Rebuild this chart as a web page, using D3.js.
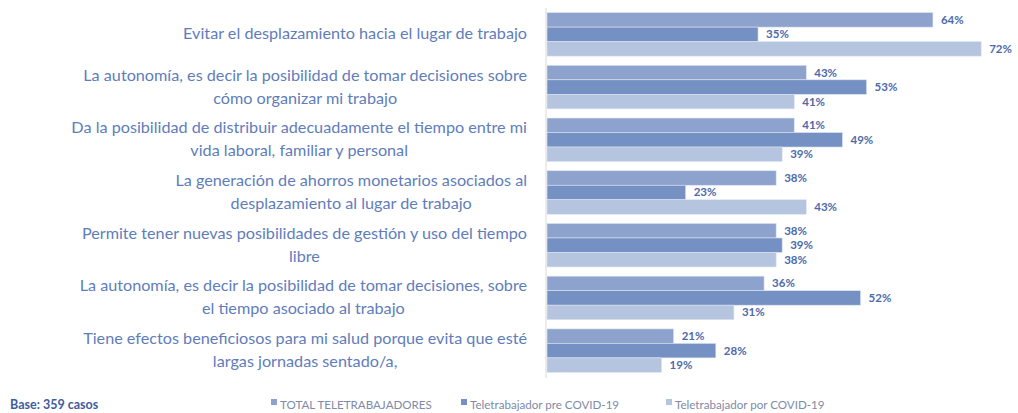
<!DOCTYPE html>
<meta charset="utf-8">
<script src="https://d3js.org/d3.v7.min.js"></script>
<style>
  body { margin: 0; background: #fff; }
  text { font-family: Lato, "Open Sans", sans-serif; }
</style>
<div id="chart"></div>
<script>

// categories (lines of each label)
var categories = [
  ["Evitar el desplazamiento hacia el lugar de trabajo"],
  ["La autonomía, es decir la posibilidad de tomar decisiones sobre", "cómo organizar mi trabajo"],
  ["Da la posibilidad de distribuir adecuadamente el tiempo entre mi", "vida laboral, familiar y personal"],
  ["La generación de ahorros monetarios asociados al", "desplazamiento al lugar de trabajo"],
  ["Permite tener nuevas posibilidades de gestión y uso del tiempo", "libre"],
  ["La autonomía, es decir la posibilidad de tomar decisiones, sobre", "el tiempo asociado al trabajo"],
  ["Tiene efectos beneficiosos para mi salud porque evita que esté", "largas jornadas sentado/a,"]
];
var seriesNames = ["TOTAL TELETRABAJADORES", "Teletrabajador pre COVID-19", "Teletrabajador por COVID-19"];
var totalVals = [64, 43, 41, 38, 38, 36, 21];
var preVals   = [35, 53, 49, 23, 39, 52, 28];
var porVals   = [72, 41, 39, 43, 38, 31, 19];
var baseNote = "Base: 359 casos";

var colors = ["#8da2cc", "#7590c2", "#b5c4df"];

var width = 1018, height = 413;

var svg = d3.select("#chart").append("svg")
  .attr("width", width)
  .attr("height", height);

var x = d3.scaleLinear().domain([0, 100]).range([547, 1150]);

var y = d3.scaleBand()
  .domain(d3.range(categories.length))
  .range([8, 377])
  .paddingInner(0.175)
  .paddingOuter(0.0875);

var ySub = d3.scaleBand()
  .domain(d3.range(seriesNames.length))
  .range([0, y.bandwidth()]);

var allVals = [totalVals, preVals, porVals];

var rows = categories.map(function(c, i) {
  return { i: i, lines: c, vals: allVals.map(function(s) { return s[i]; }) };
});

// axis line
svg.append("line")
  .attr("x1", x(0) - 1).attr("x2", x(0) - 1)
  .attr("y1", 8).attr("y2", 378)
  .attr("stroke", "#d9d9d9")
  .attr("stroke-width", 1);

var groups = svg.selectAll(".grp")
  .data(rows)
  .enter().append("g")
    .attr("class", "grp")
    .attr("transform", function(d) { return "translate(0," + y(d.i) + ")"; });

groups.selectAll("rect")
  .data(function(d) { return d.vals; })
  .enter().append("rect")
    .attr("x", x(0))
    .attr("y", function(d, j) { return ySub(j); })
    .attr("width", function(d) { return x(d) - x(0); })
    .attr("height", ySub.bandwidth())
    .attr("fill", function(d, j) { return colors[j]; })
    .attr("stroke", "#dde3f0")
    .attr("stroke-width", 0.6);

groups.selectAll(".val")
  .data(function(d) { return d.vals; })
  .enter().append("text")
    .attr("class", "val")
    .attr("x", function(d) { return x(d) + 8; })
    .attr("y", function(d, j) { return ySub(j) + ySub.bandwidth() / 2 + 4; })
    .attr("fill", "#4d6aab")
    .style("font-size", "11.5px")
    .style("font-weight", "bold")
    .text(function(d) { return d + "%"; });

// category labels: lines centered on each other, block right-aligned
var labelRight = 527;
groups.each(function(d) {
  var g = d3.select(this);
  var n = d.lines.length;
  var cy = y.bandwidth() / 2;
  var lineH = 23;
  var texts = d.lines.map(function(line, k) {
    return g.append("text")
      .attr("y", cy + (k - (n - 1) / 2) * lineH + 5)
      .attr("fill", "#5f7dbb")
      .style("font-size", "16.2px")
      .attr("text-anchor", "middle")
      .text(line);
  });
  var maxW = d3.max(texts, function(t) { return t.node().getComputedTextLength(); });
  texts.forEach(function(t) { t.attr("x", labelRight - maxW / 2); });
});

// footer
svg.append("text")
  .attr("x", 10).attr("y", 409)
  .attr("fill", "#3f5c9e")
  .style("font-size", "12.5px")
  .style("font-weight", "bold")
  .text(baseNote);

var legendX = [271, 461, 666];
var legend = svg.selectAll(".leg")
  .data(seriesNames)
  .enter().append("g")
    .attr("class", "leg")
    .attr("transform", function(d, i) { return "translate(" + legendX[i] + ",404)"; });

legend.append("rect")
  .attr("x", 0).attr("y", -5)
  .attr("width", 6).attr("height", 6)
  .attr("fill", function(d, i) { return colors[i]; });

legend.append("text")
  .attr("x", 9).attr("y", 5)
  .attr("fill", "#7f8aa6")
  .style("font-size", "11.6px")
  .text(function(d) { return d; });

</script>
